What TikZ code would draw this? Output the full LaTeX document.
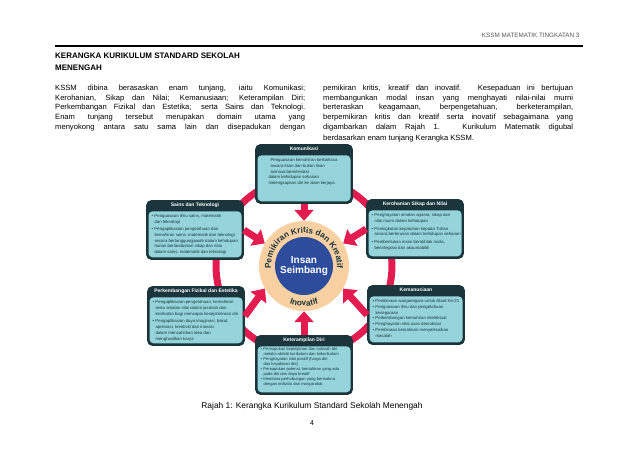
\documentclass[tikz,border=0pt]{standalone}
\usepackage{fontspec}
\setmainfont{Liberation Sans}
\usetikzlibrary{positioning, arrows.meta, decorations.text}
\definecolor{gelap}{HTML}{1A363C}
\definecolor{biruair}{HTML}{95D4DB}
\definecolor{merah}{HTML}{E31B4F}
\definecolor{pic}{HTML}{F8D0A2}
\definecolor{biru}{HTML}{2D4C9C}
\definecolor{kelabu}{HTML}{555555}
\tikzset{
    kotak/.style = {rectangle, draw=gelap, fill=gelap, thick, rounded corners=5pt,
                        minimum width=97pt, minimum height=59pt, inner sep=0pt},
    tajuk/.style = {anchor=north, text=white, font=\fontsize{5}{5.5}\selectfont\bfseries, inner sep=0pt},
    isi/.style = {rectangle, fill=biruair, rounded corners=4pt, minimum width=93pt,
                        minimum height=46pt, anchor=north, inner sep=0pt},
    teksisi/.style = {anchor=north west, align=left, font=\fontsize{4.3}{5.8}\selectfont, text=gelap, inner sep=0pt},
    panah/.style = {color=merah, line width=7pt, -{Triangle[width=19pt,length=11pt]}},
    cincin/.style = {color=merah, line width=7pt},
    teks/.style = {anchor=north west, align=left, font=\fontsize{7.6}{9.6}\selectfont, inner sep=0pt}
}
\newcommand{\baris}[1]{\makebox[250pt][s]{#1}}
\newcommand{\bt}{\makebox[3pt][l]{\textbullet}}
\newcommand{\sm}{\hspace*{3pt}}
\newcommand{\tunjang}[5][]{%
    \node (#2) [kotak] at (#3) {};
    \node [tajuk] at ([yshift=-3pt]#2.north) {#4};
    \node (#2-isi) [isi] at ([yshift=-11pt]#2.north) {};
    \node [teksisi, #1] at ([xshift=3pt,yshift=-3pt]#2-isi.north west) {#5};
}

\begin{document}
\begin{tikzpicture}[x=1pt,y=1pt]
    \useasboundingbox [fill=white] (0,0) rectangle (638,-452);
    % kepala halaman
    \node (kepala) [anchor=base east, text=kelabu, font=\fontsize{6.3}{7}\selectfont] at (583,-38) {KSSM MATEMATIK TINGKATAN 3};
    \draw [line width=2.5pt] (55,-46) -- (583,-46);
    \node (judul) [teks, font=\fontsize{8}{12}\selectfont\bfseries] at (55,-53) {KERANGKA KURIKULUM STANDARD SEKOLAH\\MENENGAH};
    % dua lajur teks
    \node (kiri) [teks] at (55,-85) {%
        \baris{KSSM dibina berasaskan enam tunjang, iaitu Komunikasi;}\\
        \baris{Kerohanian, Sikap dan Nilai; Kemanusiaan; Keterampilan Diri;}\\
        \baris{Perkembangan Fizikal dan Estetika; serta Sains dan Teknologi.}\\
        \baris{Enam tunjang tersebut merupakan domain utama yang}\\
        \baris{menyokong antara satu sama lain dan disepadukan dengan}};
    \node (kanan) [teks] at (323,-85) {%
        \baris{pemikiran kritis, kreatif dan inovatif. Kesepaduan ini bertujuan}\\
        \baris{membangunkan modal insan yang menghayati nilai-nilai murni}\\
        \baris{berteraskan keagamaan, berpengetahuan, berketerampilan,}\\
        \baris{berpemikiran kritis dan kreatif serta inovatif sebagaimana yang}\\
        \baris{digambarkan dalam Rajah 1. Kurikulum Matematik digubal}\\[1.5pt]
        berdasarkan enam tunjang Kerangka KSSM.};
    % cincin merah
    \coordinate (tengah) at (304,-266);
    \draw [cincin] (tengah) circle[radius=88];
    % enam tunjang
    \tunjang{kom}{304,-174}{Komunikasi}{\hspace*{10pt}Penguasaan kemahiran berbahasa\\
        \hspace*{10pt}secara lisan dan bukan lisan\\
        \hspace*{10pt}semasa berinteraksi\\
        \hspace*{8pt}dalam kehidupan seharian\\
        \hspace*{8pt}melengkapkan diri ke alam kerjaya}
    \tunjang{sains}{195,-230}{Sains dan Teknologi}{\bt Penguasaan ilmu sains, matematik\\
        \sm dan teknologi\\[1.5pt]
        \bt Pengaplikasian pengetahuan dan\\
        \sm kemahiran sains, matematik dan teknologi\\
        \sm secara bertanggungjawab dalam kehidupan\\
        \sm harian berlandaskan sikap dan nilai\\
        \sm dalam sains, matematik dan teknologi}
    \tunjang{kero}{415,-229}{Kerohanian Sikap dan Nilai}{\bt Penghayatan amalan agama, sikap dan\\
        \sm nilai murni dalam kehidupan\\[2pt]
        \bt Peningkatan kepatuhan kepada Tuhan\\
        \sm secara berterusan dalam kehidupan seharian\\[2pt]
        \bt Pembentukan insan berakhlak mulia,\\
        \sm berintegrasi dan akauntabiliti}
    \tunjang{perk}{196,-316}{Perkembangan Fizikal dan Estetika}{\bt Pengaplikasian pengetahuan, kemahiran\\
        \sm serta amalan nilai dalam jasmani dan\\
        \sm kesihatan bagi mencapai kesejahteraan diri\\[2pt]
        \bt Pengaplikasian daya imaginasi, bakat,\\
        \sm apresiasi, kreativiti dan inovasi\\
        \sm dalam menzahirkan idea dan\\
        \sm menghasilkan karya}
    \tunjang{kem}{416,-315}{Kemanusiaan}{\bt Pembinaan warganegara untuk Abad Ke-21\\
        \bt Penguasaan ilmu dan pengetahuan\\
        \sm kenegaraan\\
        \bt Perkembangan kemahiran intelektual\\
        \bt Penghayatan nilai asas demokrasi\\
        \bt Pembinaan kemahiran menyelesaikan\\
        \sm masalah}
    \tunjang[font=\fontsize{4.1}{5}\selectfont, yshift=1.5pt]{ket}{304,-365}{Keterampilan Diri}{%
        \bt Pemupukan kepimpinan dan sahsiah diri\\
        \sm melalui aktiviti kurikulum dan kokurikulum\\
        \bt Penghayatan nilai positif (harga diri\\
        \sm dan keyakinan diri)\\
        \bt Pemupukan potensi, kemahiran yang ada\\
        \sm pada diri dan daya kreatif\\
        \bt Membina perhubungan yang bermakna\\
        \sm dengan individu dan masyarakat}
    % insan seimbang
    \node (pusat) [circle, fill=pic, minimum size=90pt, inner sep=0pt] at (tengah) {};
    \node (insan) [circle, fill=biru, minimum size=58pt, inner sep=0pt, align=center,
        text=white, font=\fontsize{10}{10.5}\selectfont\bfseries] at (tengah) {Insan\\Seimbang};
    \path [decorate, decoration={text along path, text align=center,
        text={|\fontsize{8.3}{9}\selectfont\bfseries\color{gelap}|Pemikiran Kritis dan Kreatif}}]
        ([shift={(215:33)}]tengah) arc[start angle=215, end angle=-35, radius=33];
    \path [decorate, decoration={text along path, text align=center,
        text={|\fontsize{8.3}{9}\selectfont\bfseries\color{gelap}|Inovatif}}]
        ([shift={(235:40)}]tengah) arc[start angle=235, end angle=305, radius=40];
    % anak panah
    \draw [panah] (kom.south) -- (pusat.north);
    \draw [panah] (sains.east) -- (pusat.150);
    \draw [panah] (kero.west) -- (pusat.30);
    \draw [panah] (perk.east) -- (pusat.210);
    \draw [panah] (kem.west) -- (pusat.330);
    \draw [panah] (ket.north) -- (pusat.south);
    % kapsyen
    \node (kapsyen) [font=\fontsize{8.4}{10}\selectfont] at (312,-406) {Rajah 1: Kerangka Kurikulum Standard Sekolah Menengah};
    \node (muka) [font=\fontsize{7}{8}\selectfont] at (312,-423) {4};
\end{tikzpicture}
\end{document}
